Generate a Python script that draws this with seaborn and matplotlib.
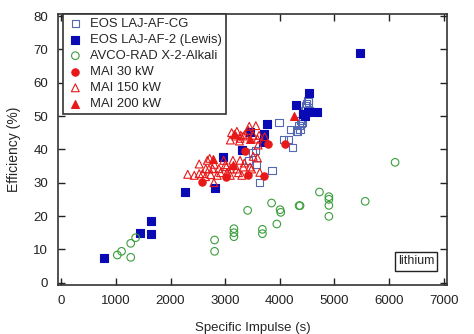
import matplotlib
matplotlib.use("Agg")
import matplotlib.pyplot as plt
import seaborn as sns
import pandas as pd

# EOS LAJ-AF-CG (open squares)
cg_isp = [3982, 4191, 4071, 4161, 4233, 3855, 3627, 3571, 3556, 3495, 3430, 4514, 4490,
          4472, 4448, 4412, 4383, 4353, 4370, 4311, 4412, 4545, 4520, 4401, 4329]
cg_eff = [48.1, 45.9, 43.0, 43.0, 40.5, 33.7, 30.1, 35.5, 39.6, 39.0, 36.7, 54.6, 53.8,
          53.0, 51.6, 50.4, 48.7, 47.1, 45.9, 45.5, 48.2, 51.6, 54.2, 47.7, 45.3]

# EOS LAJ-AF-2 (Lewis) (filled squares)
lw_isp = [779, 1439, 1643, 1643, 2269, 2811, 2965, 3300, 3462, 3708, 3690, 3759, 4299,
          4538, 4682, 4523, 4470, 5473, 4420]
lw_eff = [7.3, 15.0, 18.6, 14.6, 27.3, 28.3, 37.7, 39.8, 45.1, 44.7, 42.2, 47.5, 53.3,
          57.0, 51.2, 51.3, 49.9, 69.0, 50.6]

# AVCO-RAD X-2-Alkali (open circles)
av_isp = [1025, 1103, 1271, 1271, 1361, 2806, 2806, 3160, 3160, 3160, 3411, 3681, 3681,
          3849, 3945, 4005, 4017, 4353, 4370, 4725, 4898, 4898, 4898, 4898, 5563, 6110]
av_eff = [8.3, 9.4, 7.6, 11.8, 13.5, 12.8, 9.4, 16.2, 15.0, 13.8, 21.7, 16.0, 14.7,
          23.9, 17.6, 21.9, 21.1, 23.1, 23.1, 27.2, 25.8, 25.0, 23.2, 19.9, 24.4, 36.1]

# MAI 30 kW (filled circles)
m30_isp = [2575, 3009, 3417, 3711, 3369, 3785, 4092]
m30_eff = [30.2, 31.8, 32.3, 31.9, 39.5, 41.7, 41.6]

# MAI 150 kW (open triangles)
m150_isp = [2314, 2434, 2524, 2584, 2524, 2644, 2674, 2703, 2734, 2793, 2770, 2716, 2854,
            2884, 2914, 2973, 3003, 3034, 3022, 3094, 3094, 3142, 3214, 3243, 3304, 3273,
            3351, 3333, 3484, 3454, 3513, 3592, 3633, 2800, 2640,
            3094, 3117, 3196, 3214, 3261, 3285, 3333, 3363, 3423, 3441, 3561, 3621, 3592,
            3723, 3603, 3513, 3273]
m150_eff = [32.5, 32.2, 32.7, 32.7, 35.6, 34.2, 36.7, 34.1, 32.4, 30.0, 34.2, 37.3, 32.2,
            34.2, 33.0, 36.7, 35.4, 33.0, 34.8, 32.2, 34.1, 36.7, 34.1, 33.0, 32.2, 36.7,
            35.9, 34.7, 34.1, 34.7, 37.9, 37.4, 33.1, 35.5, 31.8,
            42.8, 45.0, 44.0, 45.4, 42.5, 44.2, 44.0, 44.5, 45.7, 46.9, 47.1, 44.2, 43.1,
            43.8, 41.3, 44.2, 43.3]

# MAI 200 kW (filled triangles)
m200_isp = [3155, 3462, 2779, 3150, 4263]
m200_eff = [44.7, 43.1, 37.1, 35.4, 49.9]

x_ticks = [0, 1000, 2000, 3000, 4000, 5000, 6000, 7000]
y_ticks = [0, 10, 20, 30, 40, 50, 60, 70, 80]

sns.set_style("ticks")
plt.rcParams['font.family'] = ['Liberation Sans', 'DejaVu Sans']

fig = plt.figure(figsize=(4.74, 3.34), dpi=100)
ax = fig.add_axes([0.1224, 0.1467, 0.8206, 0.8123])

blue_light = "#5468b4"
blue = "#0a0ab4"
green = "#3c9e3c"
red = "#e81818"

series = [
    (cg_isp, cg_eff, "EOS LAJ-AF-CG", "s", "none", blue_light, 28),
    (lw_isp, lw_eff, "EOS LAJ-AF-2 (Lewis)", "s", blue, blue, 28),
    (av_isp, av_eff, "AVCO-RAD X-2-Alkali", "o", "none", green, 30),
    (m30_isp, m30_eff, "MAI 30 kW", "o", red, red, 28),
    (m150_isp, m150_eff, "MAI 150 kW", "^", "none", red, 32),
    (m200_isp, m200_eff, "MAI 200 kW", "^", red, red, 32),
]

for xs, ys, lab, mk, fc, ec, s in series:
    df = pd.DataFrame({"isp": xs, "eff": ys})
    sns.scatterplot(data=df, x="isp", y="eff", ax=ax, marker=mk, s=s,
                    facecolors=fc, edgecolors=ec, color=ec, linewidths=0.8,
                    label=lab, zorder=3)

ax.set_xlim(-60, 7060)
ax.set_ylim(-0.7, 80.7)
ax.set_xticks(x_ticks)
ax.set_yticks(y_ticks)
ax.tick_params(direction="in", length=5, width=1, labelsize=9.5, colors="#222222",
               top=True, right=True, pad=7)
for sp in ax.spines.values():
    sp.set_linewidth(1.2)
    sp.set_color("#333333")

ax.set_xlabel("Specific Impulse (s)", fontsize=9.5, labelpad=11)
ax.set_ylabel("Efficiency (%)", fontsize=10, labelpad=9)

leg = ax.legend(loc="upper left", fontsize=9.4, frameon=True, fancybox=False,
                bbox_to_anchor=(0.012, 1.0), borderaxespad=0.0, handletextpad=0.5,
                labelspacing=0.3, borderpad=0.32, handlelength=1.3)
leg.get_frame().set_edgecolor("#333333")
leg.get_frame().set_linewidth(1.2)
leg.get_frame().set_alpha(1)

ax.text(0.967, 0.087, "lithium", transform=ax.transAxes, ha="right", va="center",
        fontsize=9, bbox=dict(boxstyle="square,pad=0.25", fc="white", ec="#222222", lw=1))

fig.savefig("out.png", dpi=100)
